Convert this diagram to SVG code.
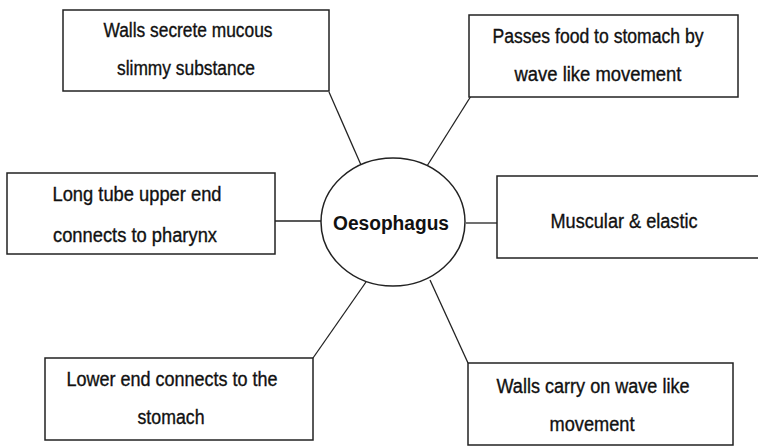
<svg xmlns="http://www.w3.org/2000/svg" width="758" height="448" viewBox="0 0 758 448">
<style>
.box{fill:#fff;stroke:#222;stroke-width:1.5}
.ln{stroke:#222;stroke-width:1.3;fill:none}
.t{font-family:"Liberation Sans",Arial,sans-serif;font-size:19.5px;fill:#111;stroke:#111;stroke-width:0.35;text-anchor:middle}
.b{font-family:"Liberation Sans",Arial,sans-serif;font-size:19.5px;font-weight:bold;fill:#111;text-anchor:middle}
</style>
<rect width="758" height="448" fill="#fff"/>
<g id="connectors">
<line class="ln" x1="329" y1="92" x2="361" y2="165"/>
<line class="ln" x1="471" y1="96" x2="427" y2="166"/>
<line class="ln" x1="275" y1="221" x2="321" y2="221"/>
<line class="ln" x1="466" y1="223" x2="497" y2="223"/>
<line class="ln" x1="366" y1="282" x2="313" y2="358"/>
<line class="ln" x1="430" y1="280" x2="468" y2="363"/>
</g>
<g id="center">
<ellipse cx="393" cy="222" rx="72" ry="64" class="box"/>
<text class="b" x="391" y="230" textLength="116" lengthAdjust="spacingAndGlyphs">Oesophagus</text>
</g>
<g id="n1">
<rect class="box" x="63" y="10" width="266" height="81"/>
<text class="t" x="188" y="37" textLength="169" lengthAdjust="spacingAndGlyphs">Walls secrete mucous</text>
<text class="t" x="186" y="75" textLength="138" lengthAdjust="spacingAndGlyphs">slimmy substance</text>
</g>
<g id="n2">
<rect class="box" x="469" y="15" width="269" height="82"/>
<text class="t" x="598" y="43" textLength="211" lengthAdjust="spacingAndGlyphs">Passes food to stomach by</text>
<text class="t" x="598" y="81" textLength="167" lengthAdjust="spacingAndGlyphs">wave like movement</text>
</g>
<g id="n3">
<rect class="box" x="7" y="173" width="268" height="81"/>
<text class="t" x="137" y="201" textLength="169" lengthAdjust="spacingAndGlyphs">Long tube upper end</text>
<text class="t" x="135" y="242" textLength="164" lengthAdjust="spacingAndGlyphs">connects to pharynx</text>
</g>
<g id="n4">
<rect class="box" x="497" y="176" width="275" height="82"/>
<text class="t" x="624" y="228" textLength="147" lengthAdjust="spacingAndGlyphs">Muscular &amp; elastic</text>
</g>
<g id="n5">
<rect class="box" x="45" y="358" width="268" height="82"/>
<text class="t" x="172" y="386" textLength="211" lengthAdjust="spacingAndGlyphs">Lower end connects to the</text>
<text class="t" x="171" y="424" textLength="67" lengthAdjust="spacingAndGlyphs">stomach</text>
</g>
<g id="n6">
<rect class="box" x="468" y="363" width="265" height="82"/>
<text class="t" x="593" y="393" textLength="193" lengthAdjust="spacingAndGlyphs">Walls carry on wave like</text>
<text class="t" x="592" y="431" textLength="85" lengthAdjust="spacingAndGlyphs">movement</text>
</g>
</svg>
